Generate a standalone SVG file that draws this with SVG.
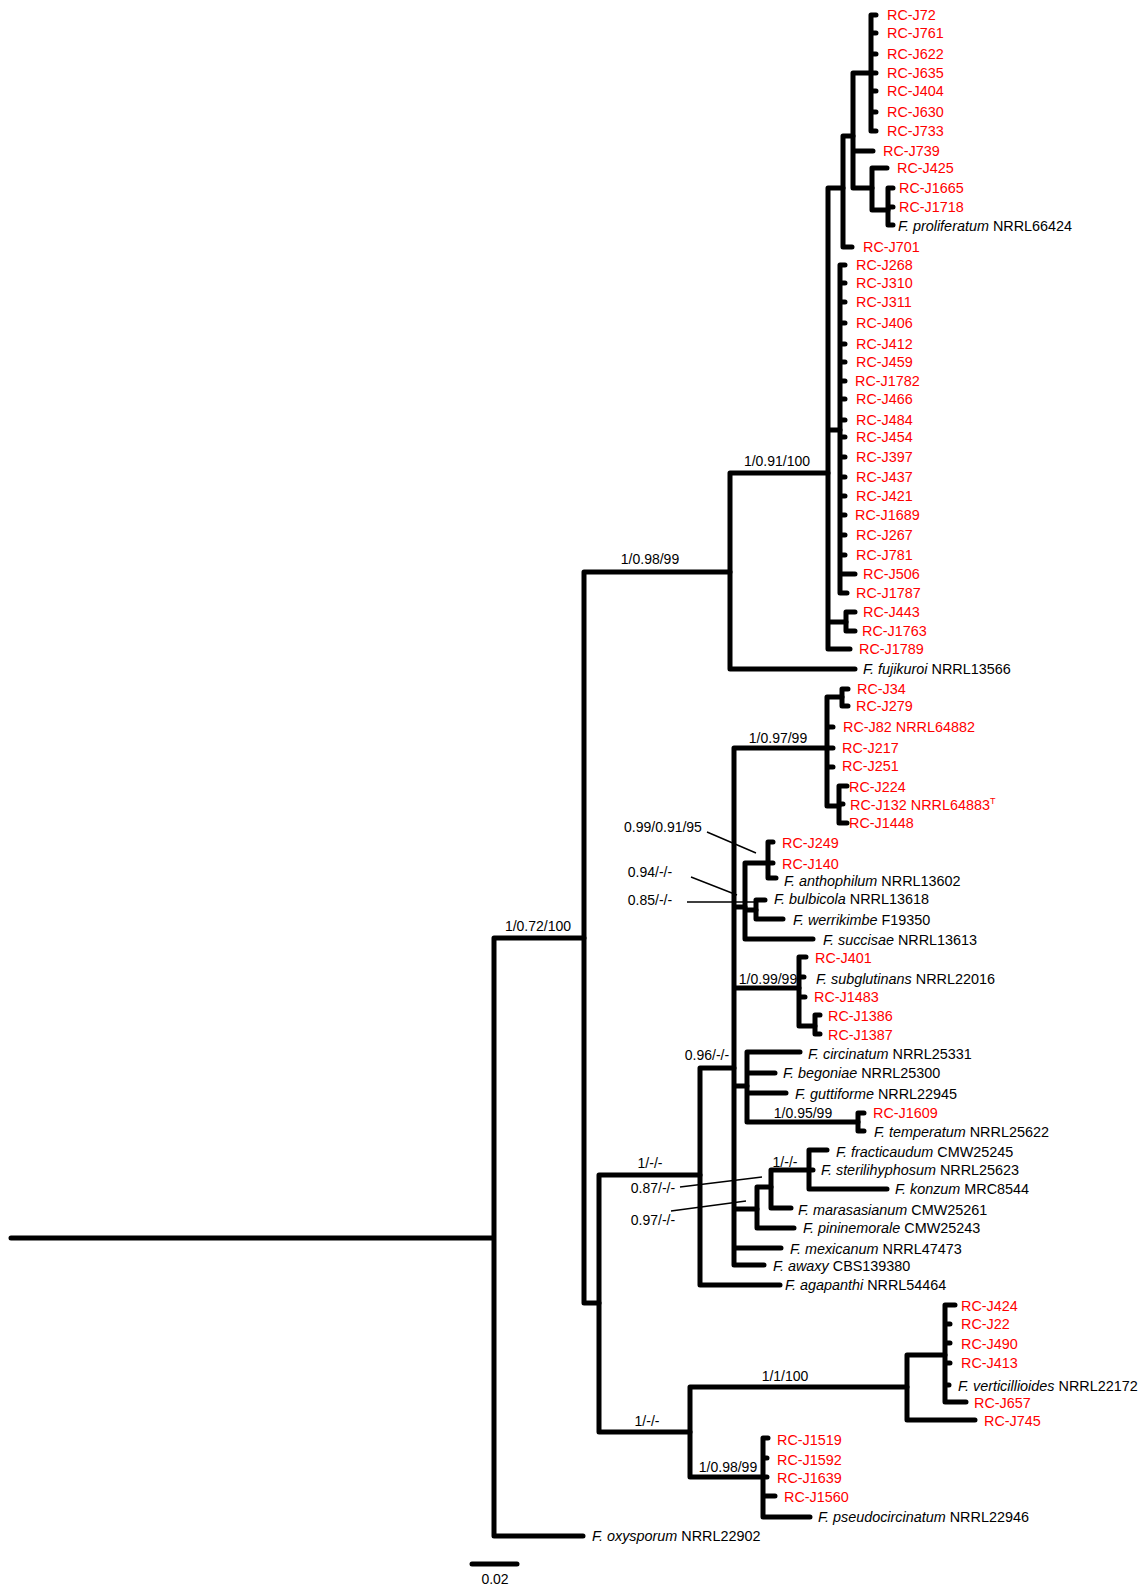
<svg xmlns="http://www.w3.org/2000/svg" width="1147" height="1591" viewBox="0 0 1147 1591">
<style>
text{font-family:"Liberation Sans",Arial,sans-serif;font-size:14px;fill:#000}
#tips text{font-size:14.4px}
.r{fill:#ff0000}
.i{font-style:italic}
.s{text-anchor:middle}
.e{stroke:#000;stroke-width:5;fill:none;stroke-linecap:round;stroke-linejoin:round}
.l{stroke:#000;stroke-width:1.4;fill:none}
</style>
<rect width="1147" height="1591" fill="#fff"/>
<g id="connectors">
<path class="e" d="M11,1238 H494 M494,938 V1536 M494,938 H584 M494,1536 H583"/>
<path class="e" d="M584,572 V1303 M584,572 H730 M584,1303 H599"/>
<path class="e" d="M730,473 V669 M730,473 H828 M730,669 H855"/>
<path class="e" d="M828,188 V649 M828,188 H843 M828,430 H840 M828,622 H846 M828,649 H850"/>
<path class="e" d="M843,136 V247 M843,136 H853 M843,247 H852"/>
<path class="e" d="M853,73 V188 M853,73 H871 M853,151 H873 M853,188 H872"/>
<path class="e" d="M871,15 V131 M871,15 H876 M871,33 H876 M871,54 H876 M871,73 H876 M871,91 H876 M871,112 H876 M871,131 H876"/>
<path class="e" d="M872,168 V210 M872,168 H887 M872,210 H888"/>
<path class="e" d="M888,188 V225 M888,188 H893 M888,207 H893 M888,225 H893"/>
<path class="e" d="M840,265 V593 M840,265 H845 M840,283 H845 M840,302 H845 M840,323 H845 M840,344 H845 M840,362 H845 M840,381 H845 M840,399 H845 M840,420 H845 M840,437 H845 M840,457 H845 M840,477 H845 M840,496 H845 M840,515 H845 M840,535 H845 M840,555 H845 M840,574 H855 M840,593 H847"/>
<path class="e" d="M846,612 V631 M846,612 H855 M846,631 H855"/>
<path class="e" d="M599,1175 V1432 M599,1175 H700 M599,1432 H690"/>
<path class="e" d="M700,1068 V1285 M700,1068 H734 M700,1285 H780"/>
<path class="e" d="M734,748 V1265 M734,748 H827 M734,907 H745 M734,988 H799 M734,1086 H747 M734,1209 H757 M734,1248 H781 M734,1265 H764"/>
<path class="e" d="M827,697 V806 M827,697 H842 M827,727 H833 M827,748 H833 M827,767 H833 M827,806 H839"/>
<path class="e" d="M842,689 V706 M842,689 H848 M842,706 H848"/>
<path class="e" d="M839,786 V823 M839,786 H847 M839,804 H843 M839,823 H847"/>
<path class="e" d="M745,863 V939 M745,863 H768 M745,910 H756 M745,939 H813"/>
<path class="e" d="M768,842 V878 M768,842 H773 M768,863 H773 M768,878 H776"/>
<path class="e" d="M756,900 V919 M756,900 H765 M756,919 H783"/>
<path class="e" d="M799,957 V1026 M799,957 H806 M799,977 H804 M799,997 H805 M799,1026 H815"/>
<path class="e" d="M815,1015 V1034 M815,1015 H820 M815,1034 H820"/>
<path class="e" d="M747,1052 V1122 M747,1052 H800 M747,1073 H775 M747,1093 H786 M747,1122 H858"/>
<path class="e" d="M858,1113 V1131 M858,1113 H864 M858,1131 H864"/>
<path class="e" d="M757,1187 V1228 M757,1187 H771 M757,1228 H794"/>
<path class="e" d="M771,1170 V1208 M771,1170 H809 M771,1208 H791"/>
<path class="e" d="M809,1150 V1189 M809,1150 H827 M809,1170 H813 M809,1189 H887"/>
<path class="e" d="M690,1387 V1477 M690,1387 H907 M690,1477 H763"/>
<path class="e" d="M907,1355 V1420 M907,1355 H945 M907,1420 H975"/>
<path class="e" d="M945,1305 V1402 M945,1305 H955 M945,1324 H950 M945,1343 H950 M945,1363 H950 M945,1385 H949 M945,1402 H966"/>
<path class="e" d="M763,1438 V1517 M763,1438 H768 M763,1458 H767 M763,1477 H767 M763,1496 H775 M763,1517 H810"/>
<path class="l" d="M707,832 L756,853 M691,877 L737,895 M687,902 H755 M680,1187 L762,1177 M671,1211 L746,1201"/>
</g>
<g id="supports">
<text class="s" x="777" y="466">1/0.91/100</text>
<text class="s" x="650" y="564">1/0.98/99</text>
<text class="s" x="538" y="931">1/0.72/100</text>
<text class="s" x="778" y="743">1/0.97/99</text>
<text class="s" x="663" y="832">0.99/0.91/95</text>
<text class="s" x="650" y="877">0.94/-/-</text>
<text class="s" x="650" y="905">0.85/-/-</text>
<text class="s" x="768" y="984">1/0.99/99</text>
<text class="s" x="707" y="1060">0.96/-/-</text>
<text class="s" x="803" y="1118">1/0.95/99</text>
<text class="s" x="650" y="1168">1/-/-</text>
<text class="s" x="785" y="1167">1/-/-</text>
<text class="s" x="653" y="1193">0.87/-/-</text>
<text class="s" x="653" y="1225">0.97/-/-</text>
<text class="s" x="785" y="1381">1/1/100</text>
<text class="s" x="647" y="1426">1/-/-</text>
<text class="s" x="728" y="1472">1/0.98/99</text>
</g>
<g id="scalebar">
<path class="e" d="M472,1564 H517"/>
<text class="s" x="495" y="1584">0.02</text>
</g>
<g id="tips">
<g id="t-J72"><text class="r" x="887" y="20">RC-J72</text></g>
<g id="t-J761"><text class="r" x="887" y="38">RC-J761</text></g>
<g id="t-J622"><text class="r" x="887" y="59">RC-J622</text></g>
<g id="t-J635"><text class="r" x="887" y="78">RC-J635</text></g>
<g id="t-J404"><text class="r" x="887" y="96">RC-J404</text></g>
<g id="t-J630"><text class="r" x="887" y="117">RC-J630</text></g>
<g id="t-J733"><text class="r" x="887" y="136">RC-J733</text></g>
<g id="t-J739"><text class="r" x="883" y="156">RC-J739</text></g>
<g id="t-J425"><text class="r" x="897" y="173">RC-J425</text></g>
<g id="t-J1665"><text class="r" x="899" y="193">RC-J1665</text></g>
<g id="t-J1718"><text class="r" x="899" y="212">RC-J1718</text></g>
<g id="t-proliferatum"><text x="898" y="231"><tspan class="i">F. proliferatum</tspan> NRRL66424</text></g>
<g id="t-J701"><text class="r" x="863" y="252">RC-J701</text></g>
<g id="t-J268"><text class="r" x="856" y="270">RC-J268</text></g>
<g id="t-J310"><text class="r" x="856" y="288">RC-J310</text></g>
<g id="t-J311"><text class="r" x="856" y="307">RC-J311</text></g>
<g id="t-J406"><text class="r" x="856" y="328">RC-J406</text></g>
<g id="t-J412"><text class="r" x="856" y="349">RC-J412</text></g>
<g id="t-J459"><text class="r" x="856" y="367">RC-J459</text></g>
<g id="t-J1782"><text class="r" x="855" y="386">RC-J1782</text></g>
<g id="t-J466"><text class="r" x="856" y="404">RC-J466</text></g>
<g id="t-J484"><text class="r" x="856" y="425">RC-J484</text></g>
<g id="t-J454"><text class="r" x="856" y="442">RC-J454</text></g>
<g id="t-J397"><text class="r" x="856" y="462">RC-J397</text></g>
<g id="t-J437"><text class="r" x="856" y="482">RC-J437</text></g>
<g id="t-J421"><text class="r" x="856" y="501">RC-J421</text></g>
<g id="t-J1689"><text class="r" x="855" y="520">RC-J1689</text></g>
<g id="t-J267"><text class="r" x="856" y="540">RC-J267</text></g>
<g id="t-J781"><text class="r" x="856" y="560">RC-J781</text></g>
<g id="t-J506"><text class="r" x="863" y="579">RC-J506</text></g>
<g id="t-J1787"><text class="r" x="856" y="598">RC-J1787</text></g>
<g id="t-J443"><text class="r" x="863" y="617">RC-J443</text></g>
<g id="t-J1763"><text class="r" x="862" y="636">RC-J1763</text></g>
<g id="t-J1789"><text class="r" x="859" y="654">RC-J1789</text></g>
<g id="t-fujikuroi"><text x="863" y="674"><tspan class="i">F. fujikuroi</tspan> NRRL13566</text></g>
<g id="t-J34"><text class="r" x="857" y="694">RC-J34</text></g>
<g id="t-J279"><text class="r" x="856" y="711">RC-J279</text></g>
<g id="t-J82"><text class="r" x="843" y="732">RC-J82 NRRL64882</text></g>
<g id="t-J217"><text class="r" x="842" y="753">RC-J217</text></g>
<g id="t-J251"><text class="r" x="842" y="771">RC-J251</text></g>
<g id="t-J224"><text class="r" x="849" y="792">RC-J224</text></g>
<g id="t-J132"><text class="r" x="850" y="810">RC-J132 NRRL64883<tspan font-size="9" dy="-6">T</tspan></text></g>
<g id="t-J1448"><text class="r" x="849" y="828">RC-J1448</text></g>
<g id="t-J249"><text class="r" x="782" y="848">RC-J249</text></g>
<g id="t-J140"><text class="r" x="782" y="869">RC-J140</text></g>
<g id="t-anthophilum"><text x="784" y="886"><tspan class="i">F. anthophilum</tspan> NRRL13602</text></g>
<g id="t-bulbicola"><text x="774" y="904"><tspan class="i">F. bulbicola</tspan> NRRL13618</text></g>
<g id="t-werrikimbe"><text x="793" y="925"><tspan class="i">F. werrikimbe</tspan> F19350</text></g>
<g id="t-succisae"><text x="823" y="945"><tspan class="i">F. succisae</tspan> NRRL13613</text></g>
<g id="t-J401"><text class="r" x="815" y="963">RC-J401</text></g>
<g id="t-subglutinans"><text x="816" y="984"><tspan class="i">F. subglutinans</tspan> NRRL22016</text></g>
<g id="t-J1483"><text class="r" x="814" y="1002">RC-J1483</text></g>
<g id="t-J1386"><text class="r" x="828" y="1021">RC-J1386</text></g>
<g id="t-J1387"><text class="r" x="828" y="1040">RC-J1387</text></g>
<g id="t-circinatum"><text x="808" y="1059"><tspan class="i">F. circinatum</tspan> NRRL25331</text></g>
<g id="t-begoniae"><text x="783" y="1078"><tspan class="i">F. begoniae</tspan> NRRL25300</text></g>
<g id="t-guttiforme"><text x="795" y="1099"><tspan class="i">F. guttiforme</tspan> NRRL22945</text></g>
<g id="t-J1609"><text class="r" x="873" y="1118">RC-J1609</text></g>
<g id="t-temperatum"><text x="874" y="1137"><tspan class="i">F. temperatum</tspan> NRRL25622</text></g>
<g id="t-fracticaudum"><text x="836" y="1157"><tspan class="i">F. fracticaudum</tspan> CMW25245</text></g>
<g id="t-sterilihyphosum"><text x="821" y="1175"><tspan class="i">F. sterilihyphosum</tspan> NRRL25623</text></g>
<g id="t-konzum"><text x="895" y="1194"><tspan class="i">F. konzum</tspan> MRC8544</text></g>
<g id="t-marasasianum"><text x="798" y="1215"><tspan class="i">F. marasasianum</tspan> CMW25261</text></g>
<g id="t-pininemorale"><text x="803" y="1233"><tspan class="i">F. pininemorale</tspan> CMW25243</text></g>
<g id="t-mexicanum"><text x="790" y="1254"><tspan class="i">F. mexicanum</tspan> NRRL47473</text></g>
<g id="t-awaxy"><text x="773" y="1271"><tspan class="i">F. awaxy</tspan> CBS139380</text></g>
<g id="t-agapanthi"><text x="785" y="1290"><tspan class="i">F. agapanthi</tspan> NRRL54464</text></g>
<g id="t-J424"><text class="r" x="961" y="1311">RC-J424</text></g>
<g id="t-J22"><text class="r" x="961" y="1329">RC-J22</text></g>
<g id="t-J490"><text class="r" x="961" y="1349">RC-J490</text></g>
<g id="t-J413"><text class="r" x="961" y="1368">RC-J413</text></g>
<g id="t-verticillioides"><text x="958" y="1391"><tspan class="i">F. verticillioides</tspan> NRRL22172</text></g>
<g id="t-J657"><text class="r" x="974" y="1408">RC-J657</text></g>
<g id="t-J745"><text class="r" x="984" y="1426">RC-J745</text></g>
<g id="t-J1519"><text class="r" x="777" y="1445">RC-J1519</text></g>
<g id="t-J1592"><text class="r" x="777" y="1465">RC-J1592</text></g>
<g id="t-J1639"><text class="r" x="777" y="1483">RC-J1639</text></g>
<g id="t-J1560"><text class="r" x="784" y="1502">RC-J1560</text></g>
<g id="t-pseudocircinatum"><text x="818" y="1522"><tspan class="i">F. pseudocircinatum</tspan> NRRL22946</text></g>
<g id="t-oxysporum"><text x="592" y="1541"><tspan class="i">F. oxysporum</tspan> NRRL22902</text></g>
</g>
</svg>
